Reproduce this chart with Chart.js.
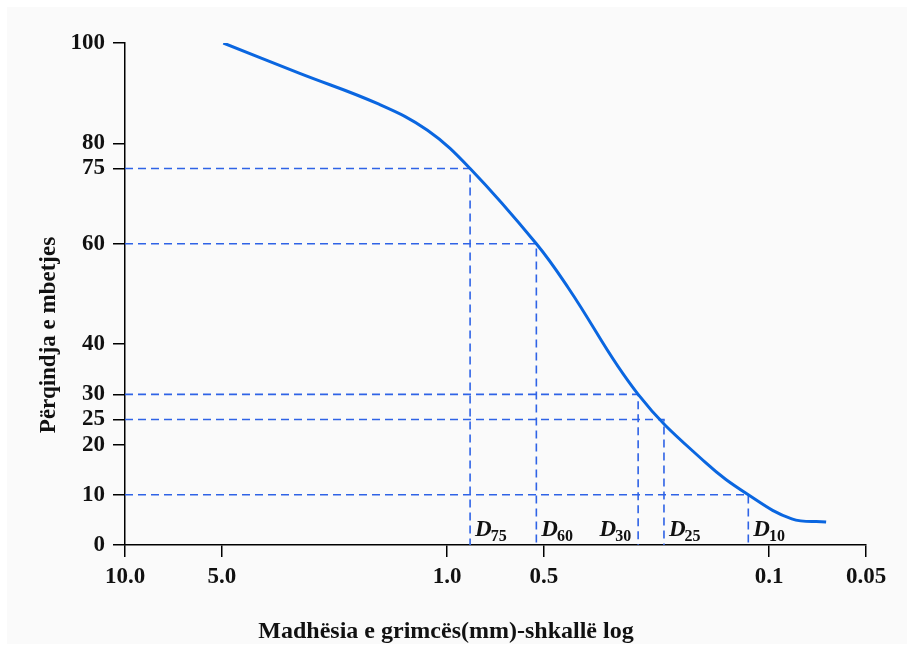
<!DOCTYPE html>
<html>
<head>
<meta charset="utf-8">
<script src="https://cdn.jsdelivr.net/npm/chart.js@4.4.0/dist/chart.umd.min.js"></script>
<style>
    html, body { margin: 0; padding: 0; background: #fff; }
    #wrap { width: 914px; height: 651px; }
</style>
</head>
<body>
<div id="wrap"><canvas id="gradationChart" width="914" height="651"></canvas></div>
<script>
// Grain size curve (mm) and percent retained
const grainSizes = [4.95, 2.88, 1.627, 1.15, 0.848, 0.528, 0.42, 0.255, 0.158, 0.116, 0.085, 0.0665];
const percentRetained = [100, 94.0, 87.8, 82.6, 75, 60, 51.2, 30, 16.5, 10, 5.2, 4.6];

// Axis ticks
const xTickValues = [10, 5, 1, 0.5, 0.1, 0.05];
const xTickLabels = ['10.0', '5.0', '1.0', '0.5', '0.1', '0.05'];
const yTickValues = [0, 10, 20, 25, 30, 40, 60, 75, 80, 100];

// Characteristic diameters
const dNames = ['75', '60', '30', '25', '10'];
const dSizes = [0.848, 0.528, 0.255, 0.212, 0.116];
const dPercents = [75, 60, 30, 25, 10];

const serif = "'Liberation Serif', 'DejaVu Serif', serif";
const dashColor = '#2f63e6';

const datasets = [{
    label: 'curve',
    data: grainSizes.map((s, i) => ({ x: s, y: percentRetained[i] })),
    borderColor: '#0a66e0',
    borderWidth: 3,
    pointRadius: 0,
    tension: 0.4,
    order: 0
}];

dSizes.forEach((d, i) => {
    datasets.push({
        label: 'D' + dNames[i],
        data: [{ x: 10, y: dPercents[i] }, { x: d, y: dPercents[i] }, { x: d, y: 0 }],
        borderColor: dashColor,
        borderWidth: 1.6,
        borderDash: [8, 5],
        pointRadius: 0,
        tension: 0,
        order: 1
    });
});

// Background panel
const panelPlugin = {
    id: 'panel',
    beforeDraw(chart) {
        const ctx = chart.ctx;
        ctx.save();
        ctx.fillStyle = '#fafafa';
        ctx.fillRect(7, 7, chart.width - 14, chart.height - 14);
        ctx.restore();
    }
};

// Axis titles + D labels
const labelsPlugin = {
    id: 'labels',
    afterDraw(chart) {
        const ctx = chart.ctx;
        const xs = chart.scales.x;
        const ys = chart.scales.y;
        ctx.save();
        ctx.fillStyle = '#111';
        ctx.textAlign = 'center';
        ctx.textBaseline = 'middle';
        ctx.font = 'bold 24px ' + serif;
        ctx.fillText('Madhësia e grimcës(mm)-shkallë log', 446, 632);

        ctx.save();
        ctx.font = 'bold 23px ' + serif;
        ctx.translate(49, 335);
        ctx.rotate(-Math.PI / 2);
        ctx.fillText('Përqindja e mbetjes', 0, 0);
        ctx.restore();

        ctx.textAlign = 'left';
        ctx.textBaseline = 'alphabetic';
        const base = ys.getPixelForValue(0) - 9;
        dSizes.forEach((d, i) => {
            const px = xs.getPixelForValue(d);
            ctx.font = 'italic bold 23px ' + serif;
            const wD = ctx.measureText('D').width;
            ctx.font = 'bold 16px ' + serif;
            const wS = ctx.measureText(dNames[i]).width;
            let left = px + 5;
            if (dNames[i] === '30') left = px - 6 - wD - wS;
            ctx.font = 'italic bold 23px ' + serif;
            ctx.fillText('D', left, base);
            ctx.font = 'bold 16px ' + serif;
            ctx.fillText(dNames[i], left + wD - 1, base + 5);
        });
        ctx.restore();
    }
};

new Chart(document.getElementById('gradationChart').getContext('2d'), {
    type: 'line',
    data: { datasets: datasets },
    plugins: [panelPlugin, labelsPlugin],
    options: {
        responsive: false,
        animation: false,
        layout: { padding: { top: 43, right: 48, left: 0, bottom: 0 } },
        plugins: {
            legend: { display: false },
            tooltip: { enabled: false }
        },
        scales: {
            x: {
                type: 'logarithmic',
                min: 0.05,
                max: 10,
                reverse: true,
                afterBuildTicks: function(scale) {
                    scale.ticks = xTickValues.map(v => ({ value: v }));
                },
                afterFit: function(scale) {
                    scale.height = 106;
                },
                ticks: {
                    autoSkip: false,
                    maxRotation: 0,
                    padding: 6,
                    color: '#111',
                    font: { family: serif, size: 23, weight: 'bold' },
                    callback: function(value) {
                        const idx = xTickValues.indexOf(value);
                        return idx >= 0 ? xTickLabels[idx] : '';
                    }
                },
                grid: {
                    drawOnChartArea: false,
                    drawTicks: true,
                    tickLength: 12,
                    color: '#000',
                    lineWidth: 1.5
                },
                border: { color: '#000', width: 1.5 }
            },
            y: {
                type: 'linear',
                min: 0,
                max: 100,
                afterBuildTicks: function(scale) {
                    scale.ticks = yTickValues.map(v => ({ value: v }));
                },
                afterFit: function(scale) {
                    scale.width = 125;
                },
                ticks: {
                    autoSkip: false,
                    padding: 8,
                    color: '#111',
                    font: { family: serif, size: 23, weight: 'bold' }
                },
                grid: {
                    drawOnChartArea: false,
                    drawTicks: true,
                    tickLength: 12,
                    color: '#000',
                    lineWidth: 1.5
                },
                border: { color: '#000', width: 1.5 }
            }
        }
    }
});
</script>
</body>
</html>
